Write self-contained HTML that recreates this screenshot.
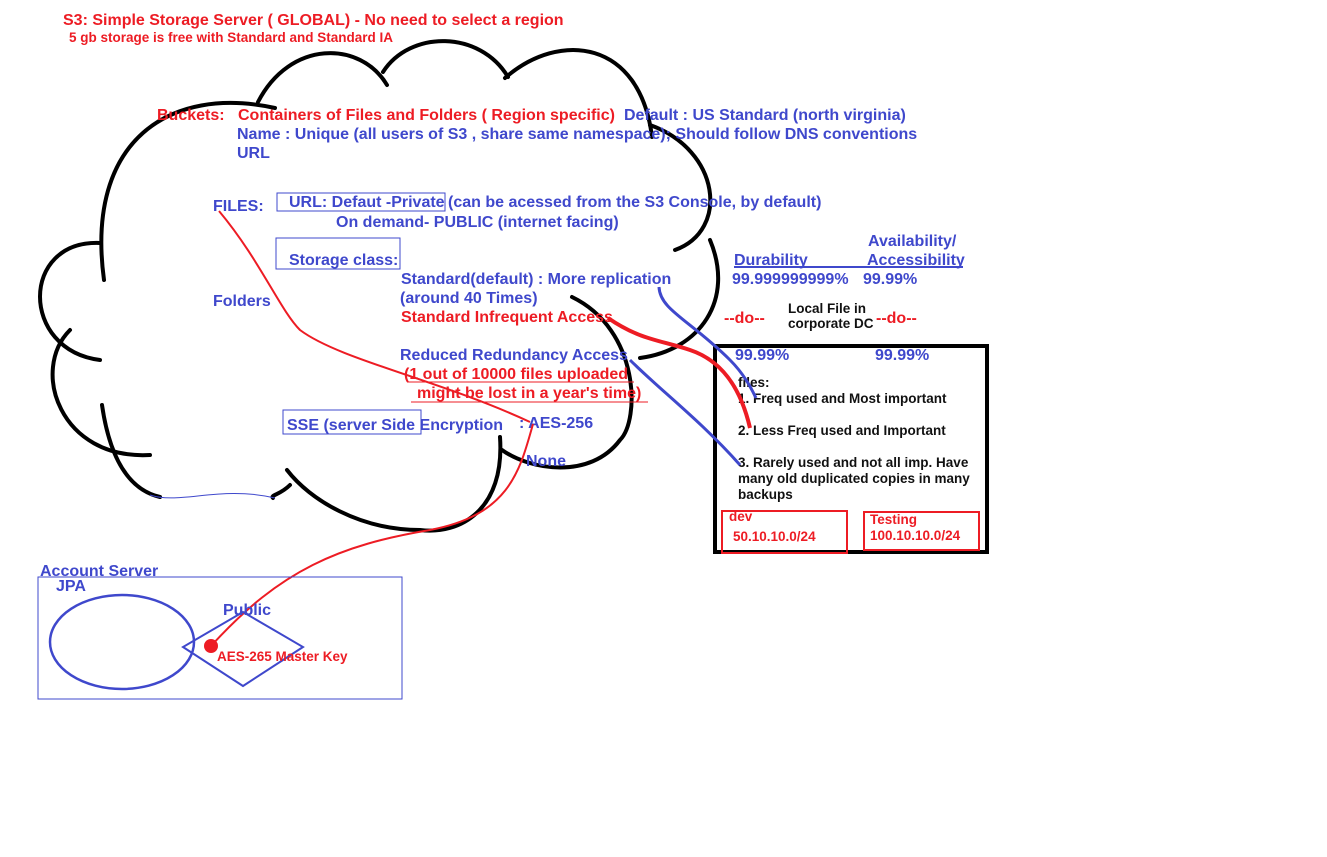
<!DOCTYPE html>
<html><head><meta charset="utf-8"><style>
body{margin:0;background:#fff;width:1327px;height:857px;overflow:hidden}
svg{display:block}
text{font-family:"Liberation Sans",sans-serif;font-weight:bold}
.b{fill:#3f48cc}.r{fill:#ed1c24}.k{fill:#111}
</style></head><body>
<svg width="1327" height="857" viewBox="0 0 1327 857">
<g fill="none" stroke="#000" stroke-width="4" stroke-linecap="round">
<path d="M104,280 C85,140 170,85 275,108"/>
<path d="M258,102 C290,40 360,40 387,85"/>
<path d="M383,72 C410,30 480,30 508,77"/>
<path d="M505,78 C560,30 640,40 652,137"/>
<path d="M650,125 C720,150 730,230 675,250"/>
<path d="M710,240 C735,300 700,350 640,358"/>
<path d="M572,297 C640,330 640,420 620,440 C590,480 530,470 502,450"/>
<path d="M500,437 C505,510 460,535 420,530 C360,530 310,500 287,470"/>
<path d="M290,485 C280,495 270,495 273,498"/>
<path d="M102,405 C110,460 130,490 160,497"/>
<path d="M150,455 C60,460 30,370 70,330"/>
<path d="M100,360 C20,350 20,240 100,243"/>
</g>
<path d="M150,495 C180,505 220,485 275,498" fill="none" stroke="#3f48cc" stroke-width="1"/>
<text x="63" y="25" font-size="16" class="r">S3: Simple Storage Server ( GLOBAL) - No need to select a region</text>
<text x="69" y="42" font-size="13.5" class="r">5 gb storage is free  with Standard and Standard IA</text>
<text x="157" y="120" font-size="16" class="r">Buckets:</text>
<text x="238" y="120" font-size="16" class="r">Containers of Files and Folders  ( Region specific)</text>
<text x="624" y="120" font-size="16" class="b">Default : US Standard (north virginia)</text>
<text x="237" y="139" font-size="16" class="b">Name : Unique (all users of S3 , share same namespace); Should follow DNS conventions</text>
<text x="237" y="158" font-size="16" class="b">URL</text>
<text x="213" y="211" font-size="16" class="b">FILES:</text>
<rect x="277" y="193" width="168" height="18" fill="none" stroke="#3f48cc" stroke-width="1"/>
<text x="289" y="207" font-size="16" class="b">URL: Defaut -Private</text>
<text x="448" y="207" font-size="16" class="b">(can be acessed from the S3 Console, by default)</text>
<text x="336" y="227" font-size="16" class="b">On demand- PUBLIC (internet facing)</text>
<rect x="276" y="238" width="124" height="31" fill="none" stroke="#3f48cc" stroke-width="1"/>
<text x="289" y="265" font-size="16" class="b">Storage class:</text>
<text x="401" y="284" font-size="16" class="b">Standard(default) : More replication</text>
<text x="400" y="303" font-size="16" class="b">(around 40 Times)</text>
<text x="401" y="322" font-size="16" class="r">Standard Infrequent Access</text>
<text x="213" y="306" font-size="16" class="b">Folders</text>
<text x="400" y="360" font-size="16" class="b">Reduced Redundancy Access</text>
<text x="404" y="379" font-size="16" class="r">(1 out of 10000 files uploaded</text>
<line x1="407" y1="382" x2="634" y2="382" stroke="#ed1c24" stroke-width="1"/>
<text x="417" y="398" font-size="16" class="r">might be lost in a year's time)</text>
<line x1="411" y1="402" x2="648" y2="402" stroke="#ed1c24" stroke-width="1"/>
<rect x="283" y="410" width="138" height="24" fill="none" stroke="#3f48cc" stroke-width="1"/>
<text x="287" y="430" font-size="16" class="b">SSE  (server Side Encryption</text>
<text x="519" y="428" font-size="16" class="b">: AES-256</text>
<text x="526" y="466" font-size="16" class="b">None</text>
<text x="868" y="246" font-size="16" class="b">Availability/</text>
<text x="734" y="265" font-size="16" class="b">Durability</text>
<text x="867" y="265" font-size="16" class="b">Accessibility</text>
<line x1="734" y1="267" x2="963" y2="267" stroke="#3f48cc" stroke-width="2"/>
<text x="732" y="284" font-size="16" class="b">99.999999999%</text>
<text x="863" y="284" font-size="16" class="b">99.99%</text>
<text x="724" y="323" font-size="16" class="r">--do--</text>
<text x="788" y="313" font-size="13.5" class="k">Local File in</text>
<text x="788" y="328" font-size="13.5" class="k">corporate DC</text>
<text x="876" y="323" font-size="16" class="r">--do--</text>
<rect x="715" y="346" width="272" height="206" fill="none" stroke="#000" stroke-width="4"/>
<text x="735" y="360" font-size="16" class="b">99.99%</text>
<text x="875" y="360" font-size="16" class="b">99.99%</text>
<text x="738" y="387" font-size="13.5" class="k">files:</text>
<text x="738" y="403" font-size="13.5" class="k">1. Freq used and   Most important</text>
<text x="738" y="435" font-size="13.5" class="k">2. Less Freq used and Important</text>
<text x="738" y="467" font-size="13.5" class="k">3. Rarely used and not all imp. Have</text>
<text x="738" y="483" font-size="13.5" class="k">many old duplicated copies in many</text>
<text x="738" y="499" font-size="13.5" class="k">backups</text>
<rect x="722" y="511" width="125" height="42" fill="none" stroke="#ed1c24" stroke-width="2"/>
<rect x="864" y="512" width="115" height="38" fill="none" stroke="#ed1c24" stroke-width="2"/>
<text x="729" y="521" font-size="13.5" class="r">dev</text>
<text x="733" y="541" font-size="13.5" class="r">50.10.10.0/24</text>
<text x="870" y="524" font-size="13.5" class="r">Testing</text>
<text x="870" y="540" font-size="13.5" class="r">100.10.10.0/24</text>
<path d="M659,287 C660,310 690,320 730,360 C745,375 752,390 756,398" fill="none" stroke="#3f48cc" stroke-width="3"/>
<path d="M608,318 C640,340 660,340 690,350 C720,360 740,385 750,428" fill="none" stroke="#ed1c24" stroke-width="4"/>
<path d="M630,360 C660,390 700,420 740,465" fill="none" stroke="#3f48cc" stroke-width="3"/>
<path d="M219,211 C260,260 280,310 300,330 C340,360 440,380 530,422" fill="none" stroke="#ed1c24" stroke-width="2"/>
<path d="M533,424 C520,470 510,515 430,530 C340,545 280,570 212,645" fill="none" stroke="#ed1c24" stroke-width="2"/>
<text x="40" y="576" font-size="16" class="b">Account Server</text>
<rect x="38" y="577" width="364" height="122" fill="none" stroke="#3f48cc" stroke-width="1"/>
<text x="56" y="591" font-size="16" class="b">JPA</text>
<ellipse cx="122" cy="642" rx="72" ry="47" fill="none" stroke="#3f48cc" stroke-width="2.5"/>
<text x="223" y="615" font-size="16" class="b">Public</text>
<path d="M243,612 L303,647 L243,686 L183,647 Z" fill="none" stroke="#3f48cc" stroke-width="2"/>
<circle cx="211" cy="646" r="7" fill="#ed1c24"/>
<text x="217" y="661" font-size="13.5" class="r">AES-265 Master Key</text>
</svg>
</body></html>
